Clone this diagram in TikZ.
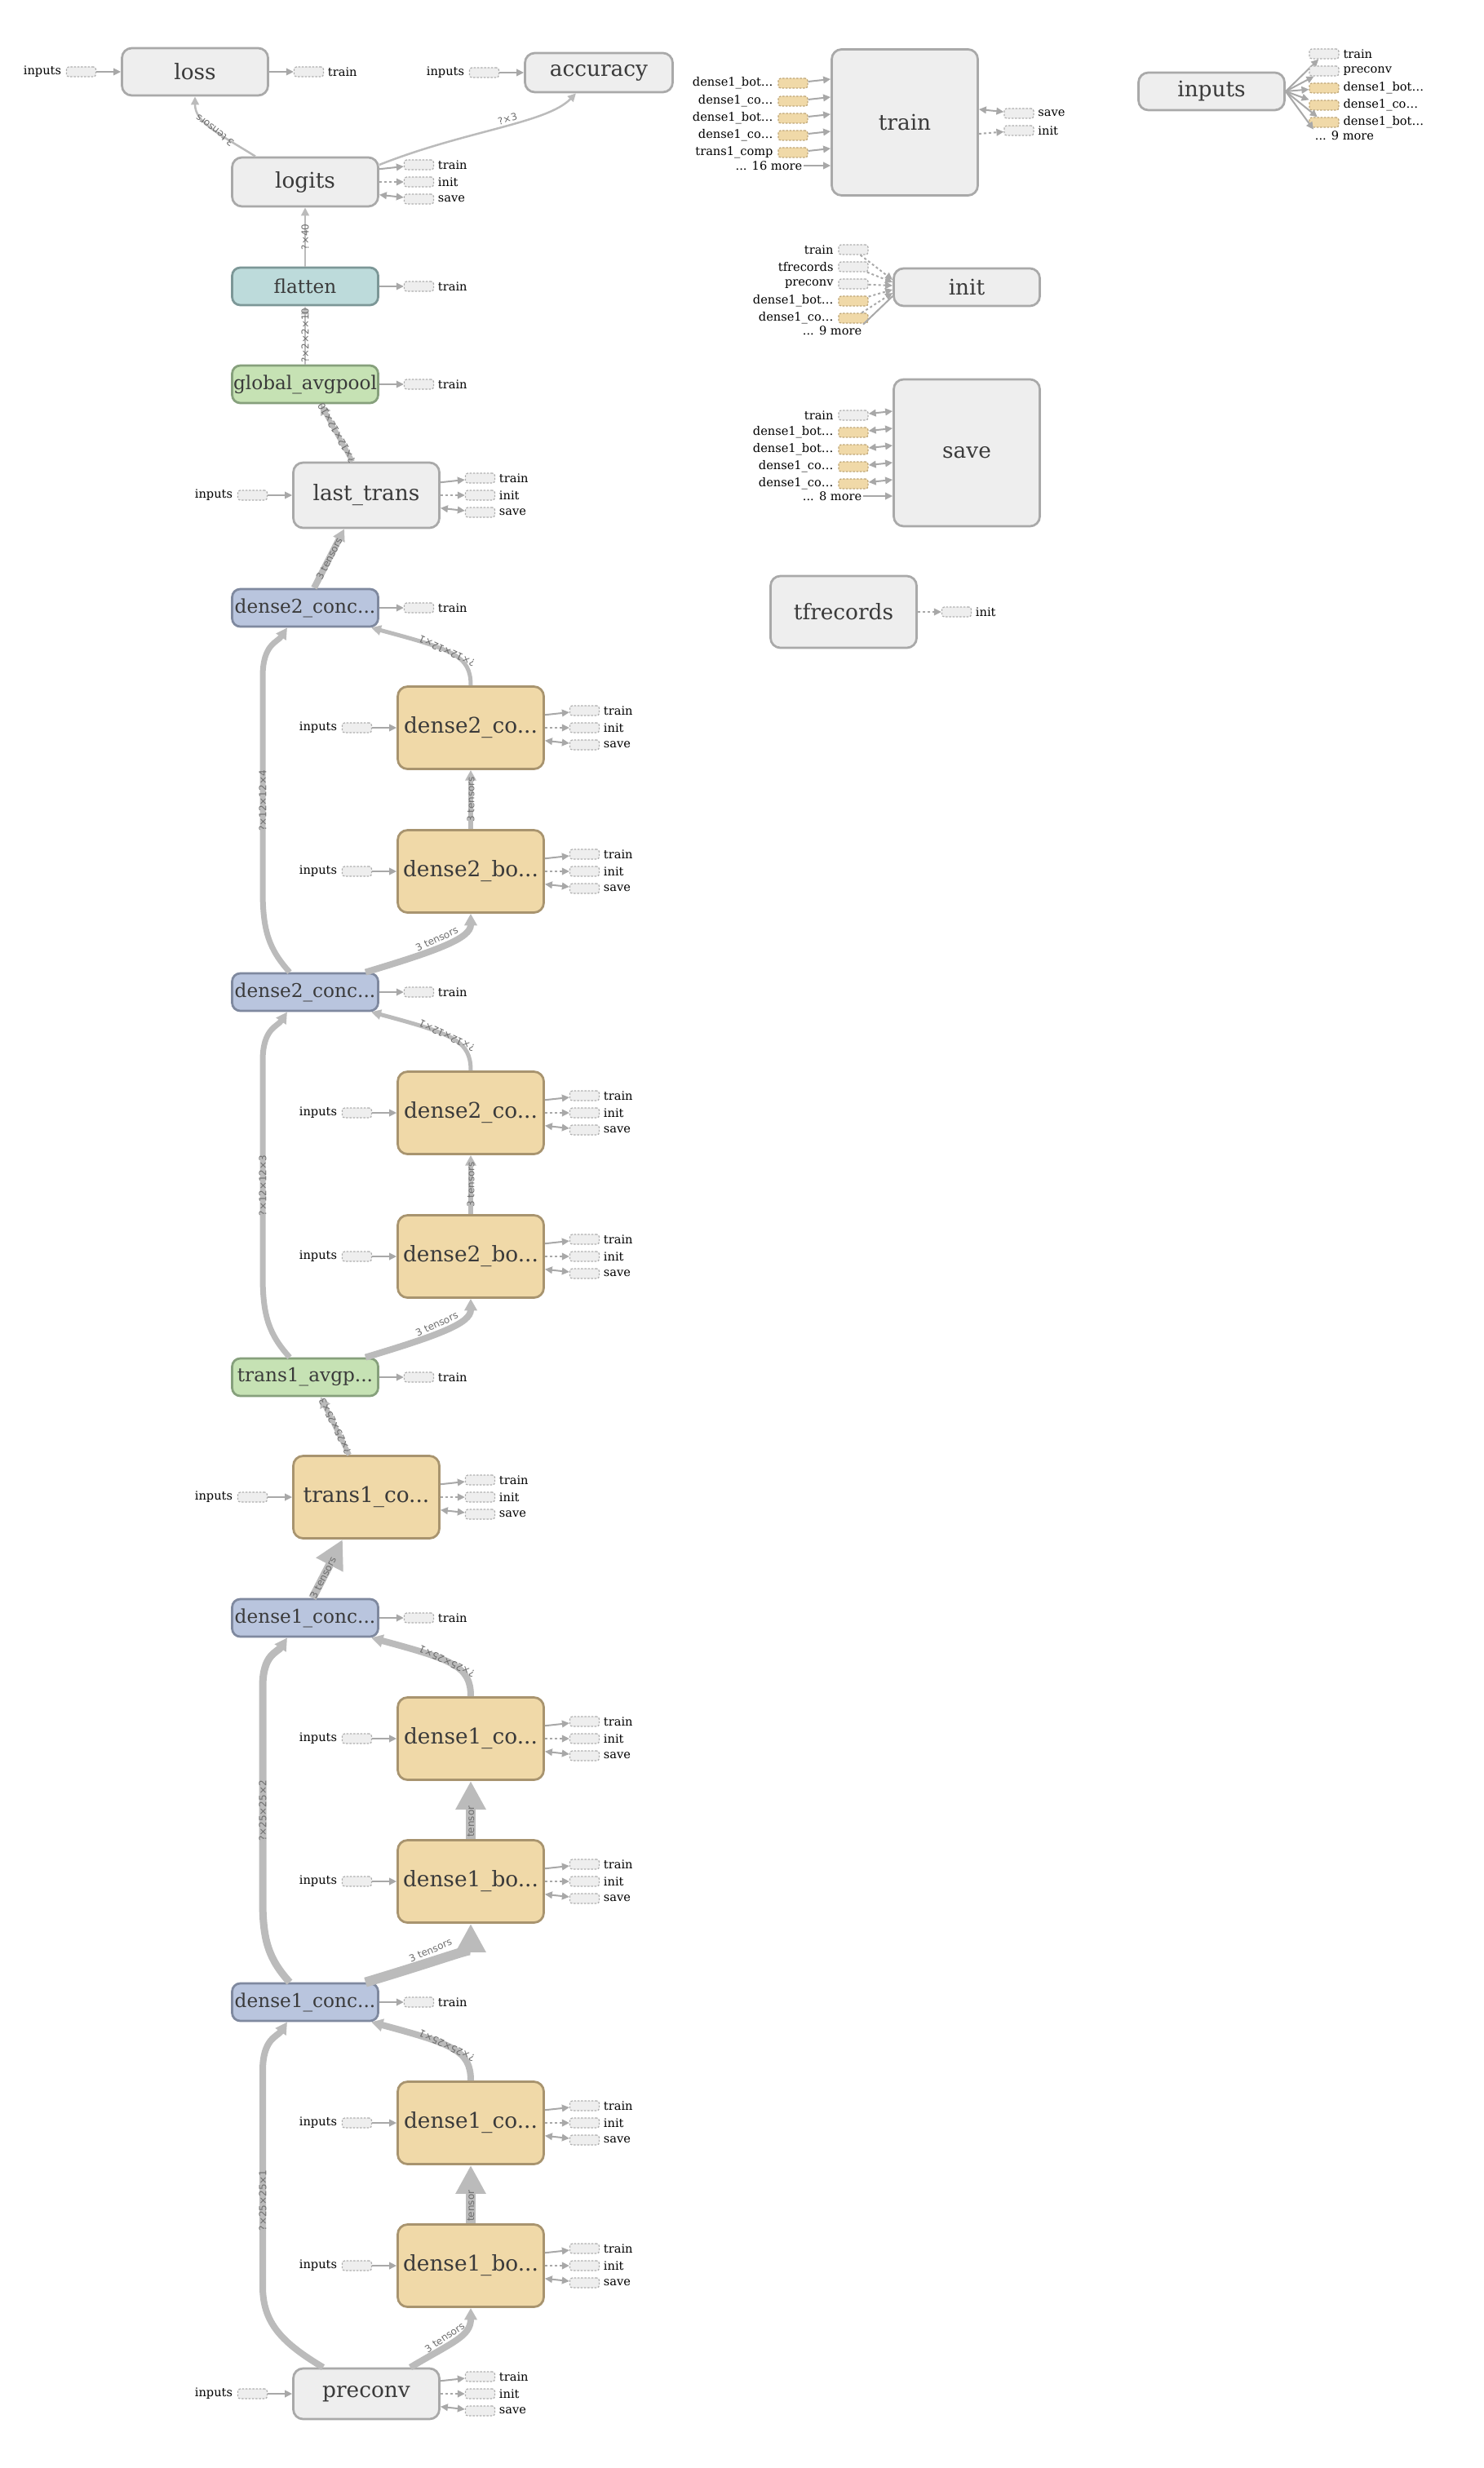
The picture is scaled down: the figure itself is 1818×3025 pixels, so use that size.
\documentclass[tikz,border=0pt]{standalone}
\usepackage{fontspec}
\setmainfont{DejaVu Serif}
\newfontfamily\shapefam{DejaVu Sans}
\usetikzlibrary{positioning,calc,arrows.meta}
\definecolor{grayf}{HTML}{EEEEEE}
\definecolor{grayd}{HTML}{A9A9A9}
\definecolor{orgf}{HTML}{F0D9A8}
\definecolor{orgd}{HTML}{A8946F}
\definecolor{bluf}{HTML}{B9C5DE}
\definecolor{blud}{HTML}{7F899F}
\definecolor{grnf}{HTML}{C6E2B4}
\definecolor{grnd}{HTML}{86A07C}
\definecolor{tealf}{HTML}{BDDBDB}
\definecolor{teald}{HTML}{7C9797}
\definecolor{edgec}{HTML}{BBBBBB}
\definecolor{auxc}{HTML}{A8A8A8}
\definecolor{stubd}{HTML}{B0B0B0}
\definecolor{stubod}{HTML}{BFA779}
\definecolor{txt}{HTML}{3A3A3A}
\definecolor{shapec}{HTML}{6E6E6E}
\begin{document}
\begin{tikzpicture}[x=0.2mm, y=-0.2mm,
  box/.style={rectangle, rounded corners=2.4mm, line width=0.55mm, minimum width=35.8mm, inner xsep=0.3mm, inner ysep=0.5mm, text=txt},
  meta/.style={box, fill=grayf, draw=grayd, font=\fontsize{15}{16}\selectfont},
  dense/.style={box, fill=orgf, draw=orgd, minimum height=20.2mm, font=\fontsize{15}{16}\selectfont},
  op/.style={box, rounded corners=2mm, minimum height=9.2mm, font=\fontsize{13.2}{14}\selectfont},
  concat/.style={op, fill=bluf, draw=blud},
  pool/.style={op, fill=grnf, draw=grnd},
  flat/.style={op, fill=tealf, draw=teald},
  stub/.style={rectangle, rounded corners=0.6mm, fill=grayf, draw=stubd, line width=0.25mm, dash pattern=on 0.5mm off 0.35mm, minimum width=7.2mm, minimum height=2.4mm, inner sep=0pt},
  stubo/.style={stub, fill=orgf, draw=stubod},
  lbl/.style={font=\fontsize{8.3}{9}\selectfont, inner sep=0.3mm},
  aux/.style={draw=auxc, line width=0.4mm, -{Triangle[length=1.8mm,width=1.7mm]}},
  dual/.style={aux, {Triangle[length=1.8mm,width=1.7mm]}-{Triangle[length=1.8mm,width=1.7mm]}},
  ctrl/.style={aux, dash pattern=on 0.6mm off 0.6mm},
  flow/.style={draw=edgec, line width=#1, -{Triangle[length=1.6mm 0.8,width=1.4mm 1]}},
  flow/.default=0.5mm,
  bighead/.style={-{Triangle[length=7mm,width=7mm]}},
  tag/.style={font=\shapefam\fontsize{6.8}{8}\selectfont, text=shapec, sloped, allow upside down, inner sep=0.3mm}]
\useasboundingbox (0,0) rectangle (1818,3025);

% main column
\node[meta, minimum height=11.6mm] (loss) at (239,88) {loss};
\node[meta, minimum width=36.2mm, minimum height=9.6mm] (accuracy) at (734,89) {accuracy};
\node[meta, minimum height=12mm] (logits) at (374,223) {logits};
\node[flat] (flatten) at (374,351) {flatten};
\node[pool] (gap) at (374,471) {global\_avgpool};
\node[meta, minimum height=16mm] (lasttrans) at (449,607) {last\_trans};
\node[concat] (d2conc) at (374,745) {dense2\_conc...};
\node[dense] (d2co) at (577,892) {dense2\_co...};
\node[dense] (d2bo) at (577,1068) {dense2\_bo...};
\node[concat] (d2concb) at (374,1216) {dense2\_conc...};
\node[dense] (d2cob) at (577,1364) {dense2\_co...};
\node[dense] (d2bob) at (577,1540) {dense2\_bo...};
\node[pool] (t1avgp) at (374,1688) {trans1\_avgp...};
\node[dense] (t1co) at (449,1835) {trans1\_co...};
\node[concat] (d1conc) at (374,1983) {dense1\_conc...};
\node[dense] (d1co) at (577,2131) {dense1\_co...};
\node[dense] (d1bo) at (577,2306) {dense1\_bo...};
\node[concat] (d1concb) at (374,2454) {dense1\_conc...};
\node[dense] (d1cob) at (577,2602) {dense1\_co...};
\node[dense] (d1bob) at (577,2777) {dense1\_bo...};
\node[meta, minimum height=12.4mm] (preconv) at (449,2934) {preconv};

% right hand groups
\node[meta, minimum height=35.8mm] (train) at (1109,150) {train};
\node[meta, minimum height=9.2mm] (inputs) at (1485,112) {inputs};
\node[meta, minimum height=9.2mm] (init) at (1185,352) {init};
\node[meta, minimum height=36mm] (save) at (1185,555) {save};
\node[meta, minimum height=17.6mm] (tfrecords) at (1034,750) {tfrecords};

% train/init/save stubs
\foreach \b in {logits,lasttrans,d2co,d2bo,d2cob,d2bob,t1co,d1co,d1bo,d1cob,d1bob,preconv} {
  \node[stub, right=6mm of \b.east, yshift=4.2mm] (\b-t) {};
  \node[stub, right=6mm of \b.east] (\b-i) {};
  \node[stub, right=6mm of \b.east, yshift=-4.2mm] (\b-s) {};
  \node[lbl, right=0.6mm of \b-t] {train};
  \node[lbl, right=0.6mm of \b-i] {init};
  \node[lbl, right=0.6mm of \b-s] {save};
  \draw[aux] ($(\b.east)!0.75!(\b.east |- \b-t)$) -- (\b-t);
  \draw[ctrl] (\b.east) -- (\b-i);
  \draw[dual] ($(\b.east)!0.75!(\b.east |- \b-s)$) -- (\b-s);
}
\foreach \b in {loss,flatten,gap,d2conc,d2concb,t1avgp,d1conc,d1concb} {
  \node[stub, right=6mm of \b.east] (\b-t) {};
  \node[lbl, right=0.6mm of \b-t] {train};
  \draw[aux] (\b.east) -- (\b-t);
}
\foreach \b in {loss,accuracy,lasttrans,d2co,d2bo,d2cob,d2bob,t1co,d1co,d1bo,d1cob,d1bob,preconv} {
  \node[stub, left=6mm of \b.west] (\b-in) {};
  \node[lbl, left=0.8mm of \b-in] {inputs};
  \draw[aux] (\b-in) -- (\b.west);
}

% data edges
\draw[flow] ($(logits.north)+(-61,0)$) .. controls +(-45,-28) and +(0,32) .. (loss.south) node[tag, pos=0.45] {3 tensors};
\draw[flow] ($(logits.east)+(0,-21)$) .. controls +(106,-42) and +(-36,37) .. ($(accuracy.south)+(-28,0)$) node[tag, pos=0.55, above] {?×3};
\draw[flow] (flatten) -- node[tag] {?×40} (logits);
\draw[flow] (gap) -- node[tag] {?×2×2×10} (flatten);
\draw[flow=1.2mm] ($(lasttrans.north)+(-17,0)$) -- node[tag] {?×12×12×10} ($(gap.south)+(19,0)$);
\draw[flow=1.6mm] ($(d2conc.north)+(11,0)$) -- node[tag] {3 tensors} ($(lasttrans.south)+(-27,0)$);

\draw[flow=1mm] (d2co.north) .. controls +(0,-37) and +(100,27) .. ($(d2conc.south)+(81,0)$) node[tag, pos=0.55] {?×12×12×1};
\draw[flow=1.4mm] ($(d2concb.north)+(-19,0)$) .. controls +(-25,-28) and +(0,50) .. ($(d2concb.north)+(-52,-100)$) -- ($(d2conc.south)+(-52,60)$) node[tag, pos=0.42] {?×12×12×4} .. controls +(0,-40) and +(-12,18) .. ($(d2conc.south)+(-22,0)$);
\draw[flow=1.6mm] ($(d2concb.north)+(74,0)$) .. controls +(90,-27) and +(0,30) .. (d2bo.south) node[tag, pos=0.45, above] {3 tensors};
\draw[flow=1.2mm] (d2bo) -- node[tag] {3 tensors} (d2co);

\draw[flow=1mm] (d2cob.north) .. controls +(0,-37) and +(100,27) .. ($(d2concb.south)+(81,0)$) node[tag, pos=0.55] {?×12×12×1};
\draw[flow=1.4mm] ($(t1avgp.north)+(-19,0)$) .. controls +(-25,-28) and +(0,50) .. ($(t1avgp.north)+(-52,-100)$) -- ($(d2concb.south)+(-52,60)$) node[tag, pos=0.42] {?×12×12×3} .. controls +(0,-40) and +(-12,18) .. ($(d2concb.south)+(-22,0)$);
\draw[flow=1.6mm] ($(t1avgp.north)+(74,0)$) .. controls +(90,-27) and +(0,30) .. (d2bob.south) node[tag, pos=0.45, above] {3 tensors};
\draw[flow=1.2mm] (d2bob) -- node[tag] {3 tensors} (d2cob);

\draw[flow=1.2mm] ($(t1co.north)+(-21,0)$) -- node[tag] {?×25×25×3} ($(t1avgp.south)+(19,0)$);
\draw[flow=2mm, bighead] ($(d1conc.north)+(9,0)$) -- node[tag, pos=0.35] {3 tensors} ($(t1co.south)+(-29,0)$);

\draw[flow=1.6mm] (d1co.north) .. controls +(0,-37) and +(100,27) .. ($(d1conc.south)+(81,0)$) node[tag, pos=0.55] {?×25×25×1};
\draw[flow=1.8mm] ($(d1concb.north)+(-19,0)$) .. controls +(-25,-28) and +(0,50) .. ($(d1concb.north)+(-52,-100)$) -- ($(d1conc.south)+(-52,60)$) node[tag, pos=0.42] {?×25×25×2} .. controls +(0,-40) and +(-12,18) .. ($(d1conc.south)+(-22,0)$);
\draw[flow=2.4mm, bighead] ($(d1concb.north)+(74,0)$) .. controls +(90,-27) and +(0,30) .. (d1bo.south) node[tag, pos=0.4, above] {3 tensors};
\draw[flow=2.4mm, bighead] (d1bo) -- node[tag, pos=0.3] {tensor} (d1co);

\draw[flow=1.6mm] (d1cob.north) .. controls +(0,-37) and +(100,27) .. ($(d1concb.south)+(81,0)$) node[tag, pos=0.55] {?×25×25×1};
\draw[flow=1.6mm] ($(preconv.north)+(-53,0)$) .. controls +(-50,-30) and +(0,45) .. ($(d1concb.south)+(-52,324)$) -- ($(d1concb.south)+(-52,60)$) node[tag, pos=0.4] {?×25×25×1} .. controls +(0,-40) and +(-12,18) .. ($(d1concb.south)+(-22,0)$);
\draw[flow=1.6mm] ($(preconv.north)+(54,0)$) .. controls +(50,-30) and +(0,35) .. (d1bob.south) node[tag, pos=0.4, above] {3 tensors};
\draw[flow=2.4mm, bighead] (d1bob) -- node[tag, pos=0.3] {tensor} (d1cob);

% train inputs and outputs
\foreach \txt/\f/\y [count=\k] in {dense1\_bot\ldots/stubo/102, dense1\_co\ldots/stubo/124, dense1\_bot\ldots/stubo/145, dense1\_co\ldots/stubo/166, trans1\_comp/stubo/187} {
  \node[\f] (tr\k) at (972,\y) {};
  \node[lbl, left=0.8mm of tr\k] {\txt};
  \draw[aux] (tr\k) -- ($(train.west |- tr\k)+(0,-5)$);
}
\node[lbl, anchor=east] (trmore) at (985,203) {... 16 more};
\draw[aux] (trmore) -- (train.west |- trmore);
\node[stub] (trsave) at (1249,139) {};
\node[stub] (trinit) at (1249,160) {};
\node[lbl, right=0.6mm of trsave] {save};
\node[lbl, right=0.6mm of trinit] {init};
\draw[dual] ($(train.east |- trsave)+(0,-5)$) -- (trsave);
\draw[ctrl] ($(train.east |- trinit)+(0,4)$) -- (trinit);

% inputs outputs
\foreach \txt/\f/\y [count=\k] in {train/stub/66, preconv/stub/87, dense1\_bot\ldots/stubo/108, dense1\_co\ldots/stubo/129, dense1\_bot\ldots/stubo/150} {
  \node[\f] (ip\k) at (1623,\y) {};
  \node[lbl, right=0.6mm of ip\k] {\txt};
  \draw[aux] (inputs.east) -- (ip\k);
}
\node[lbl, anchor=west] (ipmore) at (1610,166) {... 9 more};
\draw[aux] (inputs.east) -- (ipmore.north west);

% init inputs
\foreach \txt/\f/\y/\e [count=\k] in {train/stub/306/-9, tfrecords/stub/327/-6, preconv/stub/348/-2, dense1\_bot\ldots/stubo/369/3, dense1\_co\ldots/stubo/390/7} {
  \node[\f] (it\k) at (1046,\y) {};
  \node[lbl, left=0.8mm of it\k] {\txt};
  \draw[ctrl] (it\k) -- ($(init.west)+(0,\e)$);
}
\node[lbl, anchor=east] (itmore) at (1058,405) {... 9 more};
\draw[auxc, line width=0.4mm] (itmore.north east) -- ($(init.west)+(0,11)$);

% save inputs
\foreach \txt/\f/\y [count=\k] in {train/stub/509, dense1\_bot\ldots/stubo/530, dense1\_bot\ldots/stubo/551, dense1\_co\ldots/stubo/572, dense1\_co\ldots/stubo/593} {
  \node[\f] (sv\k) at (1046,\y) {};
  \node[lbl, left=0.8mm of sv\k] {\txt};
  \draw[dual] (sv\k) -- ($(save.west |- sv\k)+(0,-5)$);
}
\node[lbl, anchor=east] (svmore) at (1058,608) {... 8 more};
\draw[aux] (svmore) -- (save.west |- svmore);

% tfrecords output
\node[stub, right=5.8mm of tfrecords.east] (tfinit) {};
\node[lbl, right=0.6mm of tfinit] {init};
\draw[ctrl] (tfrecords) -- (tfinit);
\end{tikzpicture}
\end{document}
